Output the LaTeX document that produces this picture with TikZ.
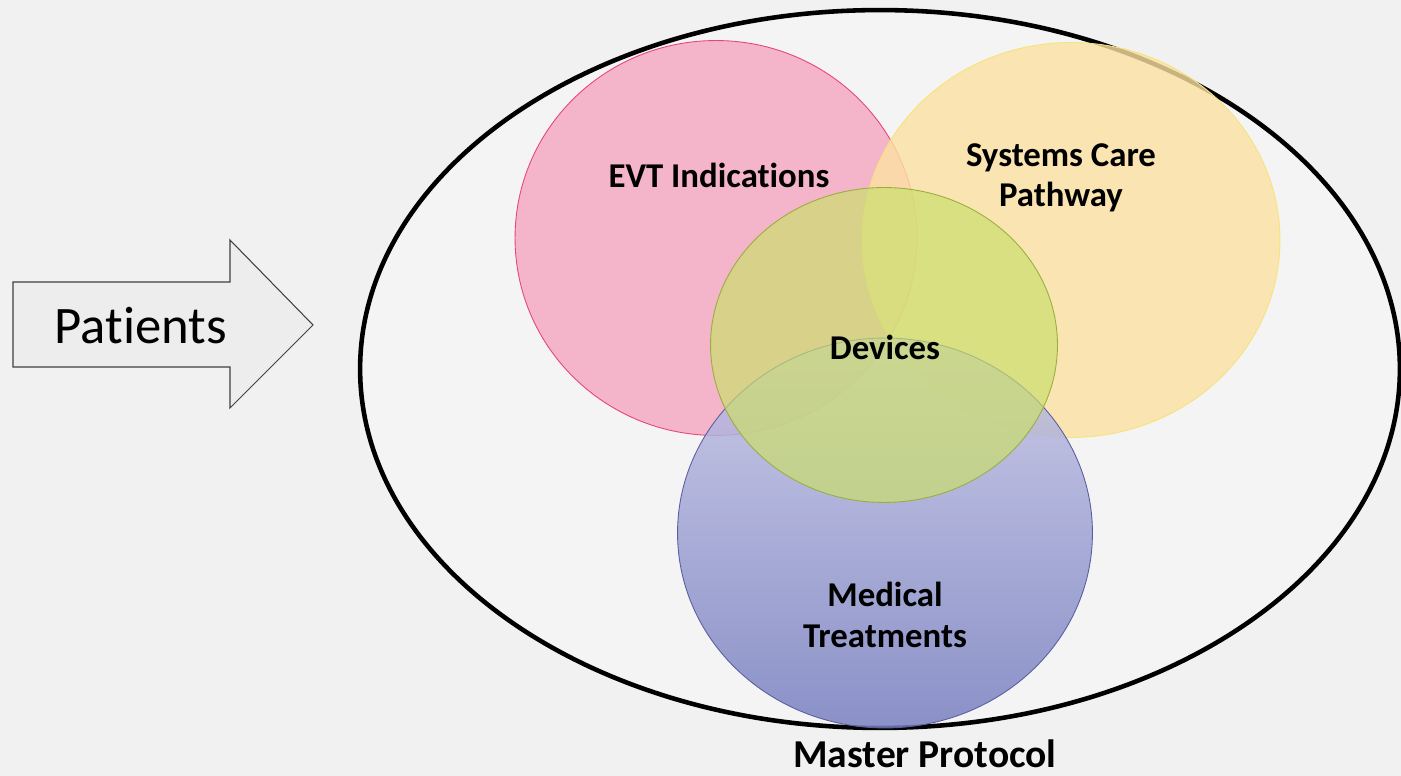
\documentclass[tikz,border=0pt]{standalone}
\usepackage{fontspec}
\setmainfont[Ligatures=NoCommon]{Carlito}
\usepackage{tikz}
\usetikzlibrary{shapes.geometric}
\definecolor{bggray}{HTML}{F1F1F1}
\definecolor{innergray}{HTML}{F4F4F4}
\definecolor{evtpink}{HTML}{F4B4CA}
\definecolor{evtedge}{HTML}{E8457A}
\definecolor{scpyellow}{HTML}{FCE2A2}
\definecolor{scpedge}{HTML}{F4E47A}
\definecolor{devgreen}{HTML}{CBDE6E}
\definecolor{devedge}{HTML}{9AAE3C}
\definecolor{medtop}{HTML}{C4C4E6}
\definecolor{medmid}{HTML}{8C92CC}
\definecolor{medbottom}{HTML}{7880C0}
\definecolor{mededge}{HTML}{5A5EA0}
\definecolor{arrowgray}{HTML}{EDEDED}

\tikzset{
  setcircle/.style={ellipse, inner sep=0pt, line width=0.5pt},
  setlabel/.style={font=\bfseries\fontsize{19.8}{23}\selectfont, align=center}
}

\begin{document}
\begin{tikzpicture}[x=0.02cm, y=-0.02cm]
    \fill[bggray] (0,0) rectangle (1401,776);
    \useasboundingbox (0,0) rectangle (1401,776);

    % patients arrow
    \draw[black!75, fill=arrowgray, line width=0.6pt]
      (13,282) -- (230,282) -- (230,240) -- (313,325) -- (230,408) -- (230,367) -- (13,367) -- cycle;
    \node[font=\fontsize{30}{34}\selectfont] (patients) at (141,326) {Patients};

    % master protocol
    \node[setcircle, draw=black, line width=2.6pt, fill=innergray,
          minimum width=20.8cm, minimum height=14.36cm] (master) at (880,369) {};
    \node[font=\bfseries\fontsize{22.5}{27}\selectfont, inner sep=0pt] (mastertext) at (925,754) {Master Protocol};

    % the four sets
    \node[setcircle, fill=evtpink, draw=evtedge,
          minimum width=8.04cm, minimum height=7.9cm] (evt) at (716,238) {};
    \node[setcircle, fill=scpyellow, fill opacity=0.8, draw=scpedge,
          minimum width=8.36cm, minimum height=7.9cm] (scp) at (1071,240) {};
    \node[setcircle, top color=medtop, middle color=medmid, bottom color=medbottom,
          fill opacity=0.85, draw=mededge,
          minimum width=8.3cm, minimum height=7.8cm] (med) at (885,533) {};
    \node[setcircle, fill=devgreen, fill opacity=0.7, draw=devedge,
          minimum width=6.94cm, minimum height=6.3cm] (dev) at (884,345) {};

    \node[setlabel] (evttext) at (719,175) {EVT Indications};
    \node[setlabel] (scptext) at (1061,178) {Systems Care\\Pathway};
    \node[setlabel] (devtext) at (885,347) {Devices};
    \node[setlabel] (medtext) at (885,615) {Medical\\Treatments};
\end{tikzpicture}
\end{document}
